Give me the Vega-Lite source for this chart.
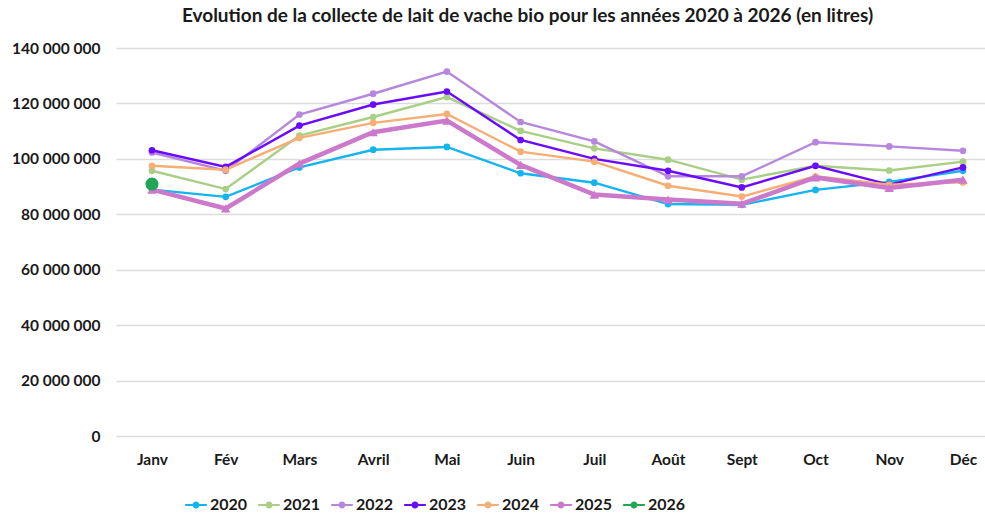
{
  "$schema": "https://vega.github.io/schema/vega-lite/v6.json",
  "width": 869,
  "height": 388,
  "autosize": {"type": "none"},
  "padding": {"left": 116, "top": 48, "right": 0, "bottom": 79},
  "background": "white",
  "title": {
    "text": "Evolution de la collecte de lait de vache bio pour les années 2020 à 2026 (en litres)",
    "font": "Lato", "fontSize": 19, "fontWeight": "bold", "color": "#1a1a1a",
    "anchor": "middle", "dx": -23, "offset": 15
  },
  "config": {
    "view": {"stroke": null},
    "locale": {"number": {"decimal": ",", "thousands": " ", "grouping": [3], "currency": ["", " €"]}}
  },
  "data": {
    "values": [
      {"m": "Janv", "y": "2020", "v": 88900000}, {"m": "Fév", "y": "2020", "v": 86300000}, {"m": "Mars", "y": "2020", "v": 96900000}, {"m": "Avril", "y": "2020", "v": 103300000}, {"m": "Mai", "y": "2020", "v": 104300000}, {"m": "Juin", "y": "2020", "v": 94800000}, {"m": "Juil", "y": "2020", "v": 91400000}, {"m": "Août", "y": "2020", "v": 83700000}, {"m": "Sept", "y": "2020", "v": 83400000}, {"m": "Oct", "y": "2020", "v": 88800000}, {"m": "Nov", "y": "2020", "v": 91700000}, {"m": "Déc", "y": "2020", "v": 95700000},
      {"m": "Janv", "y": "2021", "v": 95700000}, {"m": "Fév", "y": "2021", "v": 89100000}, {"m": "Mars", "y": "2021", "v": 108400000}, {"m": "Avril", "y": "2021", "v": 115100000}, {"m": "Mai", "y": "2021", "v": 122300000}, {"m": "Juin", "y": "2021", "v": 110100000}, {"m": "Juil", "y": "2021", "v": 103800000}, {"m": "Août", "y": "2021", "v": 99700000}, {"m": "Sept", "y": "2021", "v": 92500000}, {"m": "Oct", "y": "2021", "v": 97500000}, {"m": "Nov", "y": "2021", "v": 95800000}, {"m": "Déc", "y": "2021", "v": 99000000},
      {"m": "Janv", "y": "2022", "v": 102300000}, {"m": "Fév", "y": "2022", "v": 95700000}, {"m": "Mars", "y": "2022", "v": 116000000}, {"m": "Avril", "y": "2022", "v": 123500000}, {"m": "Mai", "y": "2022", "v": 131500000}, {"m": "Juin", "y": "2022", "v": 113300000}, {"m": "Juil", "y": "2022", "v": 106300000}, {"m": "Août", "y": "2022", "v": 93700000}, {"m": "Sept", "y": "2022", "v": 93700000}, {"m": "Oct", "y": "2022", "v": 106000000}, {"m": "Nov", "y": "2022", "v": 104500000}, {"m": "Déc", "y": "2022", "v": 102900000},
      {"m": "Janv", "y": "2023", "v": 103100000}, {"m": "Fév", "y": "2023", "v": 97100000}, {"m": "Mars", "y": "2023", "v": 112000000}, {"m": "Avril", "y": "2023", "v": 119600000}, {"m": "Mai", "y": "2023", "v": 124300000}, {"m": "Juin", "y": "2023", "v": 106800000}, {"m": "Juil", "y": "2023", "v": 100000000}, {"m": "Août", "y": "2023", "v": 95700000}, {"m": "Sept", "y": "2023", "v": 89700000}, {"m": "Oct", "y": "2023", "v": 97500000}, {"m": "Nov", "y": "2023", "v": 90700000}, {"m": "Déc", "y": "2023", "v": 96900000},
      {"m": "Janv", "y": "2024", "v": 97500000}, {"m": "Fév", "y": "2024", "v": 96100000}, {"m": "Mars", "y": "2024", "v": 107600000}, {"m": "Avril", "y": "2024", "v": 113000000}, {"m": "Mai", "y": "2024", "v": 116200000}, {"m": "Juin", "y": "2024", "v": 102600000}, {"m": "Juil", "y": "2024", "v": 99000000}, {"m": "Août", "y": "2024", "v": 90300000}, {"m": "Sept", "y": "2024", "v": 86400000}, {"m": "Oct", "y": "2024", "v": 93700000}, {"m": "Nov", "y": "2024", "v": 90700000}, {"m": "Déc", "y": "2024", "v": 91500000},
      {"m": "Janv", "y": "2025", "v": 88900000}, {"m": "Fév", "y": "2025", "v": 82100000}, {"m": "Mars", "y": "2025", "v": 98300000}, {"m": "Avril", "y": "2025", "v": 109600000}, {"m": "Mai", "y": "2025", "v": 113800000}, {"m": "Juin", "y": "2025", "v": 97800000}, {"m": "Juil", "y": "2025", "v": 87100000}, {"m": "Août", "y": "2025", "v": 85300000}, {"m": "Sept", "y": "2025", "v": 83800000}, {"m": "Oct", "y": "2025", "v": 93300000}, {"m": "Nov", "y": "2025", "v": 89500000}, {"m": "Déc", "y": "2025", "v": 92500000},
      {"m": "Janv", "y": "2026", "v": 90900000}
    ]
  },
  "encoding": {
    "x": {
      "field": "m", "type": "ordinal",
      "sort": ["Janv", "Fév", "Mars", "Avril", "Mai", "Juin", "Juil", "Août", "Sept", "Oct", "Nov", "Déc"],
      "scale": {"type": "point", "padding": 0.3935, "align": 0.62},
      "axis": {"title": null, "labelAngle": 0, "domain": false, "ticks": false, "grid": false, "labelPadding": 16, "labelFont": "Lato", "labelFontSize": 15.5, "labelFontWeight": "bold", "labelColor": "#1a1a1a"}
    },
    "y": {
      "field": "v", "type": "quantitative",
      "scale": {"domain": [0, 140000000], "nice": false},
      "axis": {"title": null, "values": [0, 20000000, 40000000, 60000000, 80000000, 100000000, 120000000, 140000000], "format": ",d", "domain": false, "ticks": false, "gridColor": "#dcdcdc", "gridWidth": 1.5, "labelPadding": 16, "labelFont": "Lato", "labelFontSize": 15.5, "labelFontWeight": "bold", "labelColor": "#1a1a1a"}
    },
    "color": {
      "field": "y", "type": "nominal",
      "scale": {"domain": ["2020", "2021", "2022", "2023", "2024", "2025", "2026"], "range": ["#14B4F0", "#A8CF85", "#B787DD", "#6A0AFF", "#F7AE74", "#CC79CC", "#22A555"]},
      "legend": {
        "title": null, "orient": "none", "direction": "horizontal", "legendX": 69, "legendY": 446,
        "symbolType": "M-1,-0.1H1V0.1H-1Z M0.32,0A0.32,0.32 0 1,1 -0.32,0A0.32,0.32 0 1,1 0.32,0Z",
        "symbolSize": 470, "symbolStrokeWidth": 0, "symbolOpacity": 1,
        "labelFont": "Lato", "labelFontSize": 16, "labelFontWeight": "bold", "labelColor": "#1a1a1a", "labelOffset": 3, "columnPadding": 10
      }
    }
  },
  "layer": [
    {
      "transform": [{"filter": {"field": "y", "oneOf": ["2020", "2021", "2022", "2023", "2024"]}}],
      "mark": {"type": "line", "strokeWidth": 2.4},
      "encoding": {}
    },
    {
      "transform": [{"filter": {"field": "y", "oneOf": ["2020", "2021", "2022", "2023", "2024"]}}],
      "mark": {"type": "point", "filled": true, "opacity": 1, "size": 45},
      "encoding": {}
    },
    {
      "transform": [{"filter": {"field": "y", "equal": "2025"}}],
      "mark": {"type": "line", "strokeWidth": 4.5},
      "encoding": {}
    },
    {
      "transform": [{"filter": {"field": "y", "equal": "2025"}}],
      "mark": {"type": "point", "filled": true, "opacity": 1, "size": 90, "shape": "triangle-up"},
      "encoding": {}
    },
    {
      "transform": [{"filter": {"field": "y", "equal": "2026"}}],
      "mark": {"type": "point", "filled": true, "opacity": 1, "size": 170},
      "encoding": {}
    }
  ]
}
